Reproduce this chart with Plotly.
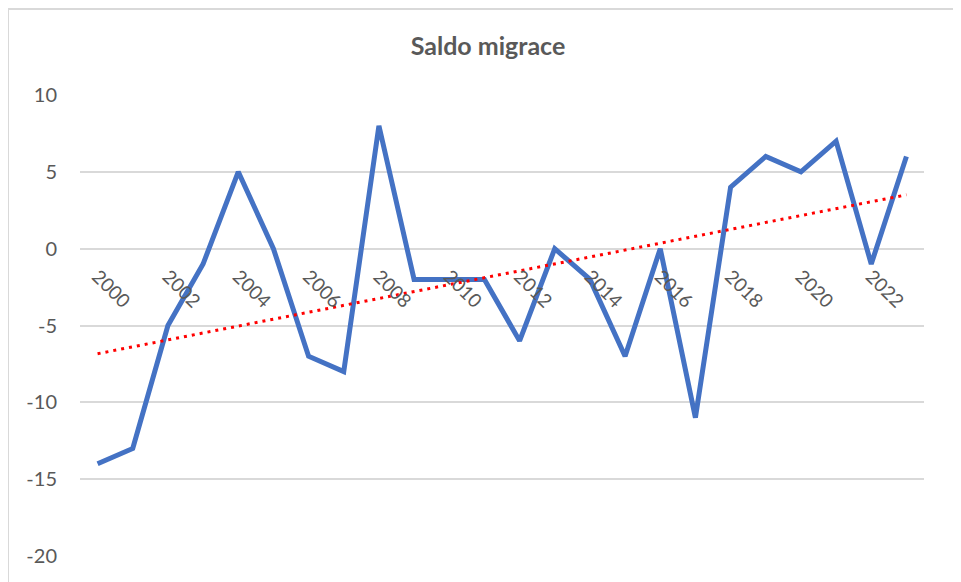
import numpy as np
import plotly.graph_objects as go

years = list(range(2000, 2024))
saldo = [-14, -13, -5, -1, 5, 0, -7, -8, 8, -2, -2, -2, -6, 0, -2, -7, 0, -11, 4, 6, 5, 7, -1, 6]
tick_years = [2000, 2002, 2004, 2006, 2008, 2010, 2012, 2014, 2016, 2018, 2020, 2022]
tick_labels = [str(y) for y in tick_years]
y_ticks = [-20, -15, -10, -5, 0, 5, 10]
y_tick_labels = ["-20", "-15", "-10", "-5", "0", "5", "10"]

# linear trendline (least squares)
coef = np.polyfit(years, saldo, 1)
trend = np.polyval(coef, years)

# page body has an 8px default margin; compensate
OFF = 8
W, H = 961 - OFF, 582 - OFF
ml, mr, mt, mb = 80 - OFF, 37, 95 - OFF, 26
pw, ph = W - ml - mr, H - mt - mb

fig = go.Figure()
fig.add_trace(go.Scatter(x=years, y=saldo, mode="lines",
                         line=dict(color="#4472C4", width=5), showlegend=False,
                         hoverinfo="x+y"))
fig.add_trace(go.Scatter(x=years, y=list(trend), mode="lines",
                         line=dict(color="#FF0000", width=3, dash="3px,5px"),
                         showlegend=False, hoverinfo="skip"))

ymin, ymax = -20, 10
zero_pos = (0 - ymin) / (ymax - ymin)

fig.update_layout(
    width=W, height=H,
    margin=dict(l=ml, r=mr, t=mt, b=mb),
    paper_bgcolor="white", plot_bgcolor="white",
    font=dict(family="Lato, 'Open Sans', sans-serif", color="#595959"),
    title=dict(text="<b>Saldo migrace</b>", x=(488 - OFF) / W, xanchor="center",
               y=1 - (46 - OFF) / H, yanchor="middle",
               font=dict(size=25, color="#595959")),
    xaxis=dict(range=[years[0] - 0.5, years[-1] + 0.5],
               tickvals=tick_years, ticktext=tick_labels, tickangle=45,
               showgrid=False, zeroline=False, showline=False,
               anchor="free", position=zero_pos, ticks="",
               ticklabelstandoff=12,
               tickfont=dict(size=19, color="#595959")),
    yaxis=dict(range=[ymin, ymax], tickvals=y_ticks, ticktext=y_tick_labels,
               showgrid=True, gridcolor="#D9D9D9", gridwidth=2,
               zeroline=False, showline=False, ticks="",
               ticklabelstandoff=22,
               tickfont=dict(size=20, color="#595959")),
    shapes=[dict(type="rect", xref="paper", yref="paper",
                 x0=(8 - OFF - ml) / pw, x1=(W + 20 - ml) / pw,
                 y0=-(H + 20 - mt - ph) / ph, y1=(H - mb - (9 - OFF)) / ph,
                 line=dict(color="#D9D9D9", width=2), fillcolor="rgba(0,0,0,0)",
                 layer="below")],
)

fig.write_html("out.html")
